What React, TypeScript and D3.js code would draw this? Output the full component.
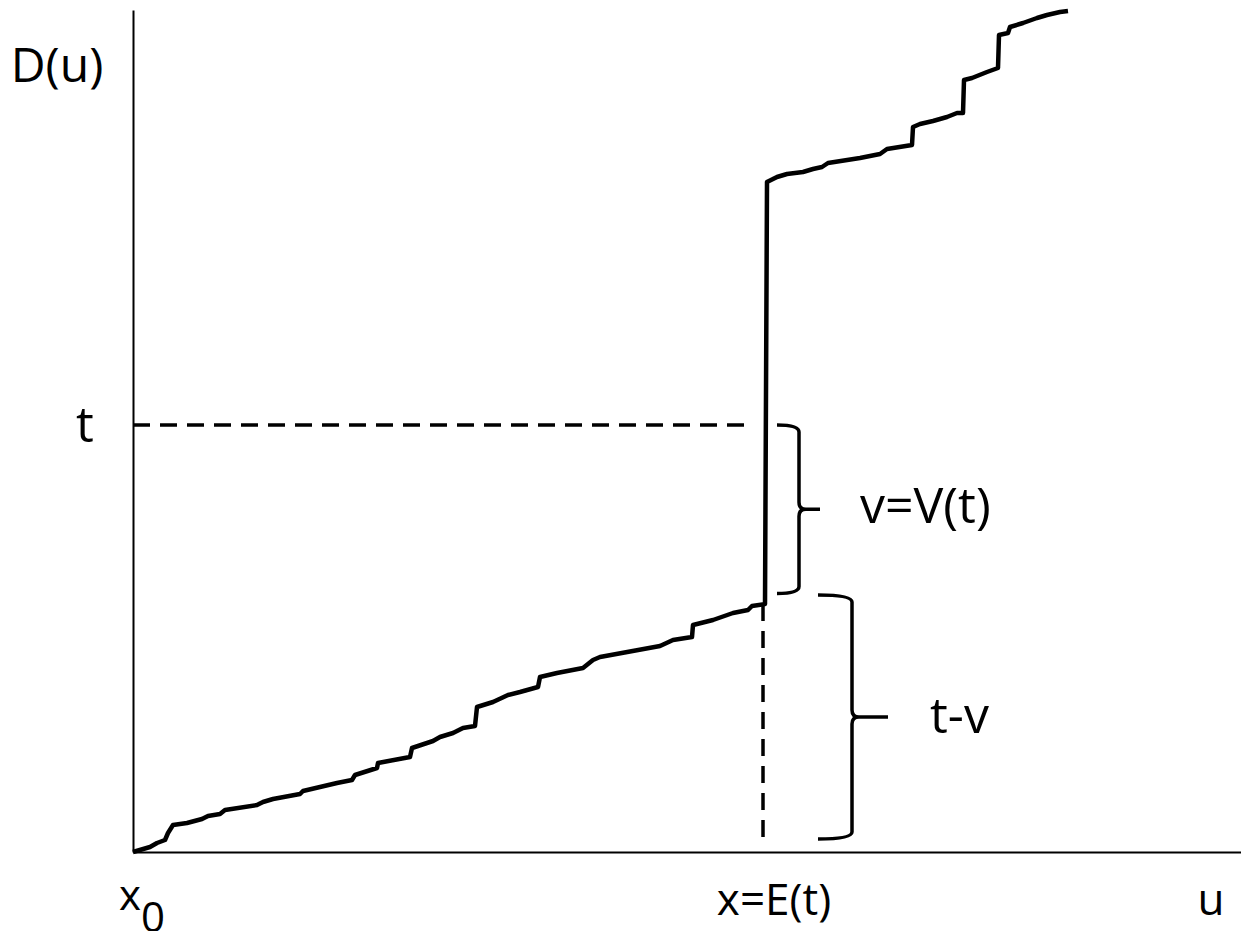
import { useEffect, useRef } from 'react';
import * as d3 from 'd3';

// D(u), [u, D] pairs (axis units, 1 unit ~ 10px)
const lowerCurve: [number, number][] = [
    [0.0, 0.0], [1.7, 0.5], [2.4, 0.9], [3.2, 1.2], [3.5, 1.9], [4.0, 2.7],
    [5.4, 2.9], [6.9, 3.3], [7.5, 3.6], [8.7, 3.8], [9.2, 4.2], [12.4, 4.7],
    [13.0, 5.0], [14.0, 5.3], [16.7, 5.8], [17.0, 6.1], [20.4, 6.9], [21.9, 7.2],
    [22.2, 7.7], [24.4, 8.4], [24.5, 8.9], [27.7, 9.5], [27.9, 10.4], [30.0, 11.1],
    [30.7, 11.5], [32.0, 11.9], [33.0, 12.4], [34.2, 12.6], [34.4, 14.5], [36.0, 15.0],
    [37.5, 15.7], [38.7, 16.0], [40.5, 16.5], [40.7, 17.5], [42.4, 17.9], [45.0, 18.4],
    [46.0, 19.2], [46.7, 19.5], [52.7, 20.6], [54.0, 21.2], [55.9, 21.5], [56.0, 22.7],
    [58.0, 23.2], [60.0, 23.9], [61.5, 24.2], [61.9, 24.6], [63.2, 24.8],
];

const upperCurve: [number, number][] = [
    [63.4, 67.0], [64.4, 67.5], [65.4, 67.8], [67.0, 68.0], [68.0, 68.3], [68.9, 68.5],
    [69.5, 68.9], [72.7, 69.4], [74.7, 69.8], [75.4, 70.3], [77.9, 70.7], [78.0, 72.5],
    [78.7, 72.8], [80.0, 73.1], [81.4, 73.5], [82.4, 73.9], [83.0, 73.9], [83.1, 77.2],
    [83.9, 77.4], [85.4, 78.0], [86.5, 78.4], [86.6, 81.7], [87.5, 81.9], [87.7, 82.5],
    [89.0, 82.9], [90.4, 83.4], [91.4, 83.7], [92.7, 84.0], [93.5, 84.1],
];

const uMax = 110.8;
const dMax = 84.2;
const tLevel = 42.7;
const eOfT = 63.0;
const dAtE = 24.8;
const dashBottom = 1.4;

// braces: [top, bottom, left, spine, tip]
const braceV = [42.7, 25.85, 64.4, 66.6, 68.7];
const braceTV = [25.7, 1.3, 68.5, 71.9, 75.5];

const font = '"Open Sans", "Liberation Sans", sans-serif';

function bracePath(x0: number, xs: number, xt: number, yTop: number, yBot: number, r: number) {
    const ym = (yTop + yBot) / 2;
    return `M${x0},${yTop} Q${xs},${yTop} ${xs},${yTop + r} L${xs},${ym - r} Q${xs},${ym} ${xs + r},${ym} L${xt},${ym}`
        + ` M${xs + r},${ym} Q${xs},${ym} ${xs},${ym + r} L${xs},${yBot - r} Q${xs},${yBot} ${x0},${yBot}`;
}

export default function App() {
    const svgRef = useRef<SVGSVGElement>(null);

    useEffect(() => {
        const svg = d3.select(svgRef.current);
        svg.selectAll('*').remove();

        const margin = { top: 10, right: 0, bottom: 79, left: 133 };
        const width = +svg.attr('width') - margin.left - margin.right;
        const height = +svg.attr('height') - margin.top - margin.bottom;

        const x = d3.scaleLinear().domain([0, uMax]).range([0, width]);
        const y = d3.scaleLinear().domain([0, dMax]).range([height, 0]);

        const g = svg.append('g').attr('transform', `translate(${margin.left}, ${margin.top})`);

        // axes without ticks
        const xAxis = g.append('g')
            .attr('transform', `translate(0, ${height})`)
            .call(d3.axisBottom(x).tickValues([]).tickSizeOuter(0));
        const yAxis = g.append('g')
            .call(d3.axisLeft(y).tickValues([]).tickSizeOuter(0));
        [xAxis, yAxis].forEach(a => a.select('.domain').attr('stroke', '#000').attr('stroke-width', 2));

        const line = d3.line<[number, number]>().x(d => x(d[0])).y(d => y(d[1]));

        // dashed guides
        g.append('path')
            .attr('d', line([[0, tLevel], [61.9, tLevel]]))
            .attr('fill', 'none').attr('stroke', '#000').attr('stroke-width', 3.5)
            .attr('stroke-dasharray', '17,10');
        g.append('path')
            .attr('d', line([[eOfT, dAtE], [eOfT, dashBottom]]))
            .attr('fill', 'none').attr('stroke', '#000').attr('stroke-width', 3.5)
            .attr('stroke-dasharray', '17,10');

        // the curve
        g.append('path')
            .datum(lowerCurve.concat(upperCurve))
            .attr('d', line)
            .attr('fill', 'none')
            .attr('stroke', '#000')
            .attr('stroke-width', 4.5)
            .attr('stroke-linejoin', 'round');

        // braces
        [braceV, braceTV].forEach(b => {
            g.append('path')
                .attr('d', bracePath(x(b[2]), x(b[3]), x(b[4]), y(b[0]), y(b[1]), 7))
                .attr('fill', 'none').attr('stroke', '#000').attr('stroke-width', 3.5);
        });

        const label = (txt: string, px: number, py: number, size: number, anchor = 'start') =>
            g.append('text')
                .attr('x', px).attr('y', py)
                .attr('font-family', font).attr('font-size', size)
                .attr('text-anchor', anchor).attr('fill', '#000')
                .text(txt);

        label('D(u)', x(0) - 76, y(dMax) + 72, 48, 'middle');
        label('t', x(0) - 48, y(tLevel) + 17, 50, 'middle');
        const midV = (braceV[0] + braceV[1]) / 2;
        const midTV = (braceTV[0] + braceTV[1]) / 2;
        label('v=V(t)', x(braceV[4]) + 40, y(midV) + 14, 50);
        label('t-v', x(braceTV[4]) + 42, y(midTV) + 16, 50);
        label('x=E(t)', x(eOfT) + 11, y(0) + 63, 44, 'middle');
        label('u', x(uMax) - 30, y(0) + 63, 44, 'middle');

        const x0 = label('x', x(0) - 14, y(0) + 58, 42);
        x0.append('tspan').attr('dy', 22).text('0');
    }, []);

    return (
        <svg ref={svgRef} width="1241" height="931"
            style={{ position: 'absolute', left: 0, top: 0, background: '#fff' }}></svg>
    );
}
